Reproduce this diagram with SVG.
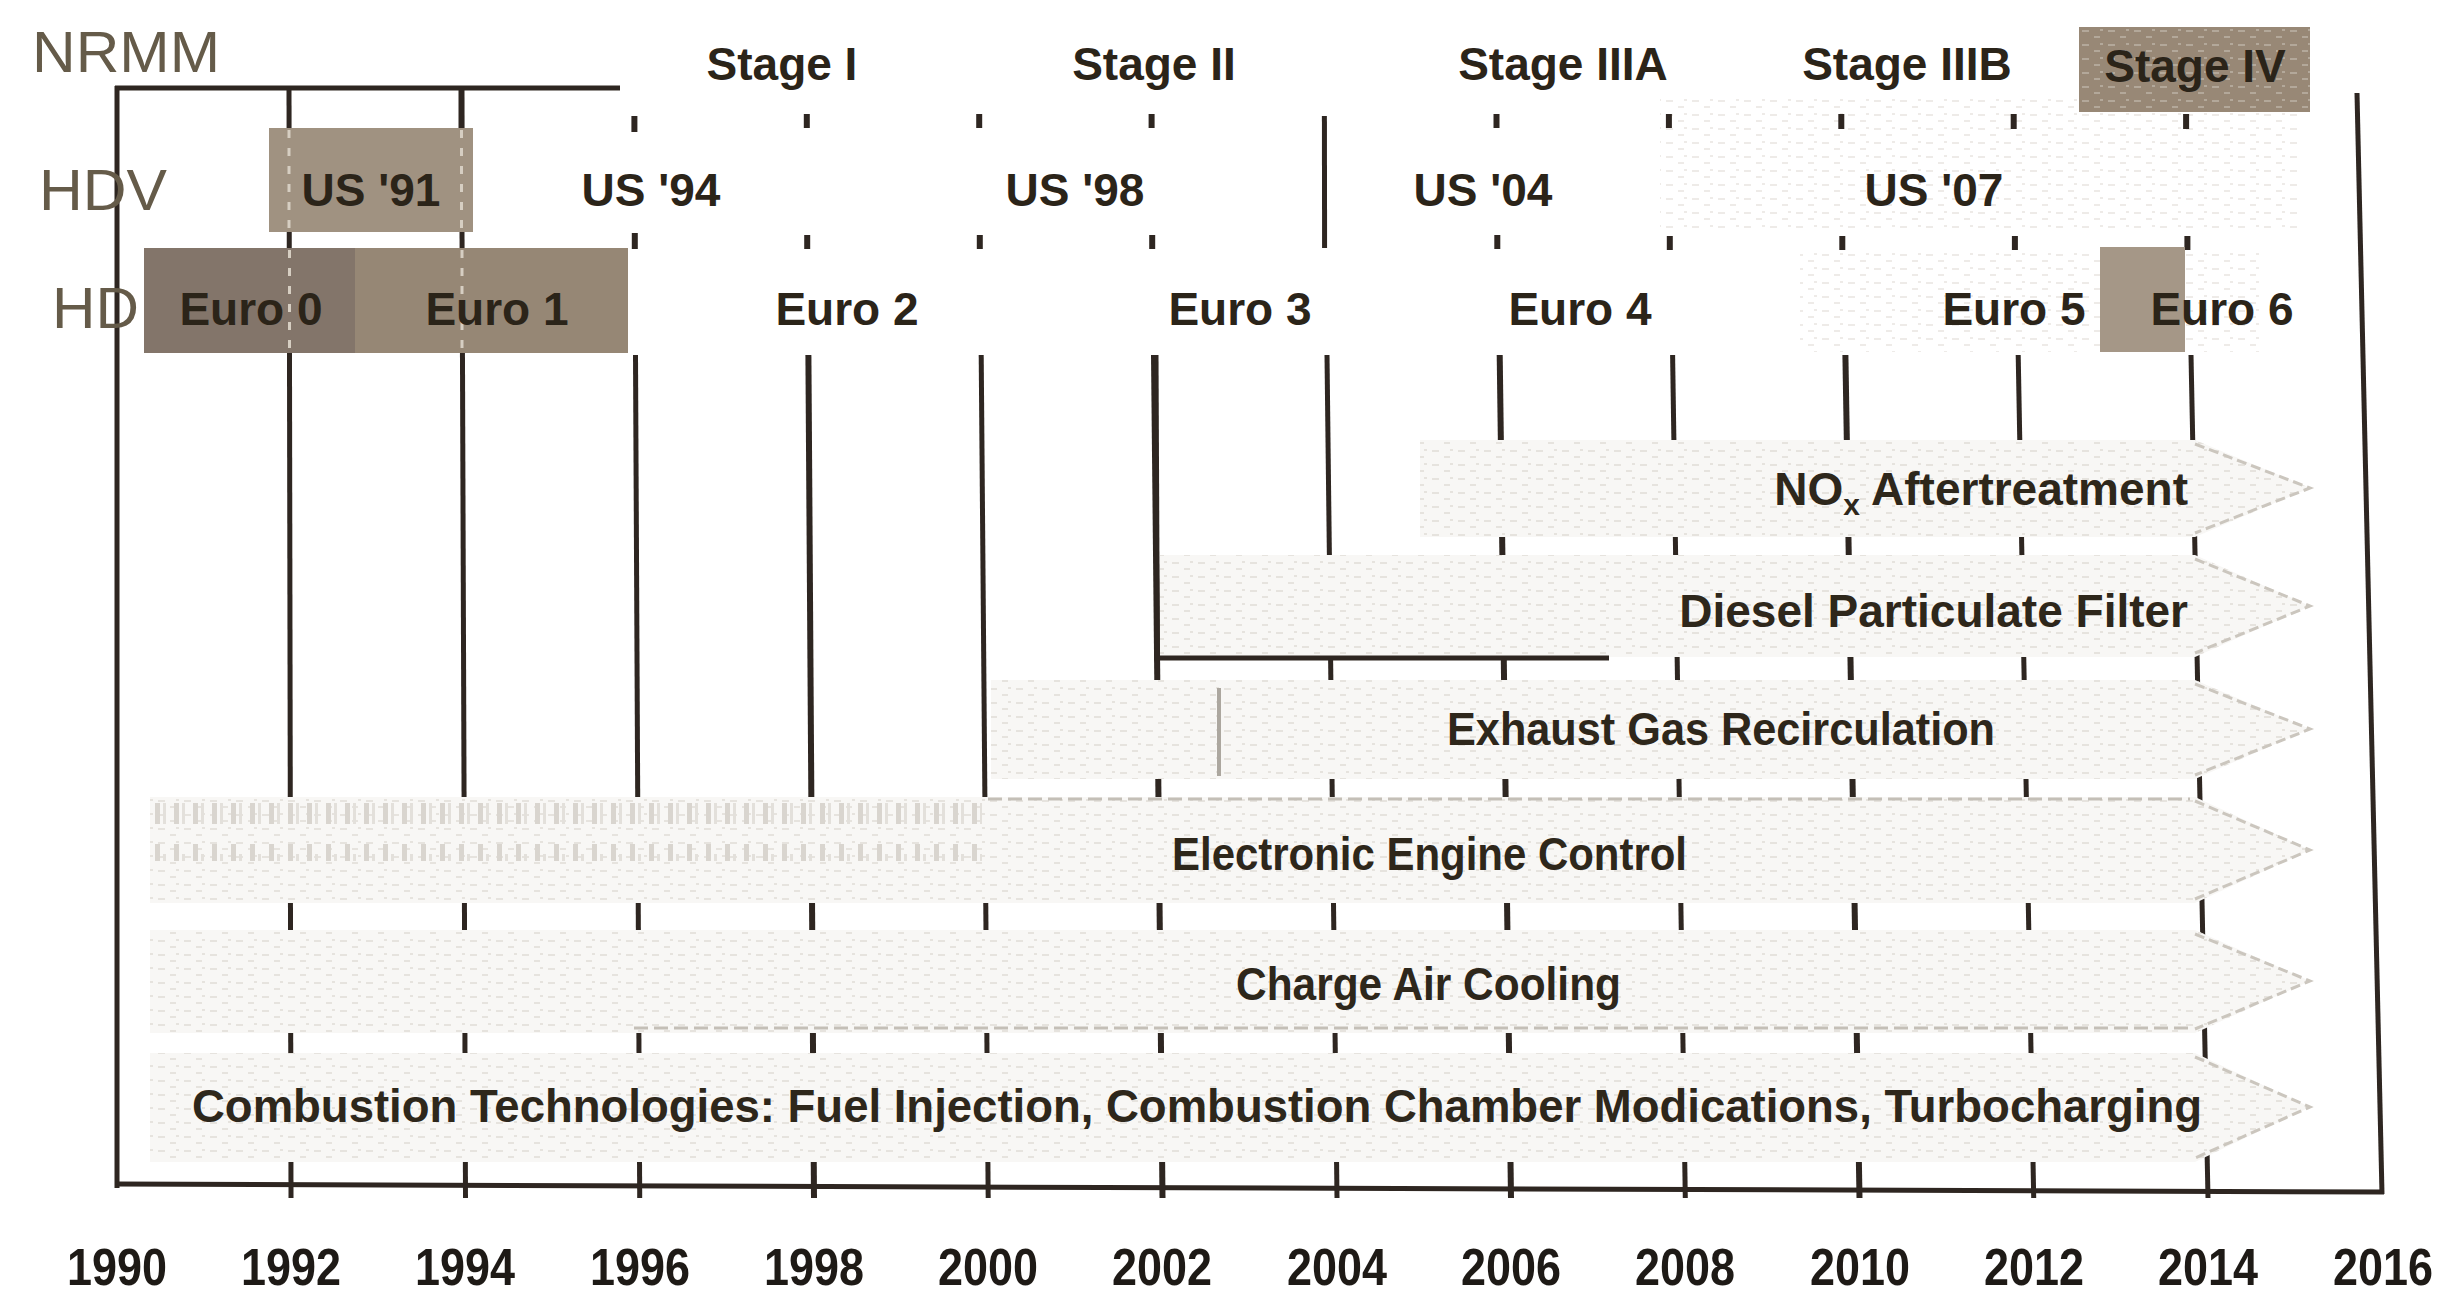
<svg xmlns="http://www.w3.org/2000/svg" width="2452" height="1301" viewBox="0 0 2452 1301">
<defs>
<style>
.lbl{font-family:"Liberation Sans",Arial,sans-serif;font-size:46px;font-weight:bold;fill:#2b2419;text-anchor:middle}
.row{font-family:"Liberation Sans",Arial,sans-serif;font-size:58px;fill:#655b49}
.yr{font-family:"Liberation Sans",Arial,sans-serif;font-size:52px;font-weight:bold;fill:#1e1a16;text-anchor:middle}
.band{font-family:"Liberation Sans",Arial,sans-serif;font-size:46px;font-weight:bold;fill:#2e271b}
.g{stroke:#2e2621;stroke-width:5;fill:none;stroke-linecap:butt}
.tk{stroke:#2e2621;stroke-width:6;fill:none}
.arrow{fill:#f8f7f5;stroke:none}
.tex{fill:url(#scan);stroke:none}
.head{fill:none;stroke:#cbc6be;stroke-width:3;stroke-dasharray:10 5}
.edge{stroke:#c4bfb7;stroke-width:3;stroke-dasharray:14 6;fill:none}
.ghost{stroke:#d6cec2;stroke-width:3;stroke-dasharray:8 10;fill:none}
</style>
<pattern id="scan" width="26" height="14" patternUnits="userSpaceOnUse">
  <path d="M2 3h7M14 9h6M20 2h3" stroke="#e6e3de" stroke-width="2"/>
</pattern>
<pattern id="vhatch" width="19" height="60" patternUnits="userSpaceOnUse">
  <rect x="3" y="4" width="5" height="40" fill="#d9d5cf"/>
  <rect x="11" y="14" width="3" height="30" fill="#e3e0db"/>
</pattern>
</defs>
<rect width="2452" height="1301" fill="#ffffff"/>

<!-- faint scan texture areas -->
<rect x="1660" y="96" width="640" height="135" fill="url(#scan)" opacity="0.7"/>
<rect x="1800" y="252" width="460" height="100" fill="url(#scan)" opacity="0.7"/>

<g id="connectors">
  <!-- axes -->
  <line class="g" x1="117" y1="86" x2="117" y2="1188" stroke-width="6"/>
  <line class="g" x1="115" y1="88" x2="620" y2="88" stroke-width="6"/>
  <line class="g" x1="115" y1="1184" x2="2384" y2="1192" stroke-width="7"/>
  <line class="g" x1="2357" y1="93" x2="2382" y2="1194" stroke-width="4"/>
  <!-- continuous lines 1992, 1994 -->
  <line class="g" x1="289" y1="88" x2="291" y2="1198"/>
  <line class="g" x1="461.5" y1="88" x2="465.5" y2="1198"/>
  <line class="tk" x1="461.5" y1="88" x2="461.5" y2="128" stroke-width="8"/>
  <!-- top ticks (between Stage / HDV / HD rows) -->
  <g class="tk">
    <line x1="634.4" y1="116" x2="634.4" y2="132"/><line x1="634.8" y1="233" x2="634.8" y2="249"/>
    <line x1="806.8" y1="114" x2="806.8" y2="128"/><line x1="807.2" y1="235" x2="807.2" y2="249"/>
    <line x1="979.2" y1="114" x2="979.2" y2="128"/><line x1="979.8" y1="235" x2="979.8" y2="249"/>
    <line x1="1151.6" y1="114" x2="1151.6" y2="128"/><line x1="1152.2" y1="235" x2="1152.2" y2="249"/>
    <line x1="1324.4" y1="116" x2="1324.6" y2="248" stroke-width="5"/>
    <line x1="1496.5" y1="114" x2="1496.5" y2="128"/><line x1="1497.3" y1="235" x2="1497.3" y2="249"/>
    <line x1="1668.9" y1="114" x2="1668.9" y2="128"/><line x1="1669.8" y1="236" x2="1669.8" y2="250"/>
    <line x1="1841.3" y1="114" x2="1841.3" y2="129"/><line x1="1842.3" y1="236" x2="1842.3" y2="250"/>
    <line x1="2013.7" y1="114" x2="2013.7" y2="129"/><line x1="2014.9" y1="236" x2="2014.9" y2="250"/>
    <line x1="2186.1" y1="114" x2="2186.1" y2="129"/><line x1="2187.4" y1="236" x2="2187.4" y2="250"/>
  </g>
  <!-- lower grid lines (mostly hidden under the arrows) -->
  <g class="g">
    <line x1="635.5" y1="355" x2="639.7" y2="1198"/>
    <line x1="808.4" y1="355" x2="814" y2="1198" stroke-width="6"/>
    <line x1="981.2" y1="355" x2="988.2" y2="1198"/>
    <line x1="1154" y1="355" x2="1162.5" y2="1198" stroke-width="6"/>
    <line x1="1327" y1="355" x2="1337" y2="1198"/>
    <line x1="1499.7" y1="355" x2="1511" y2="1198" stroke-width="6"/>
    <line x1="1672.6" y1="355" x2="1685.3" y2="1198"/>
    <line x1="1845.4" y1="355" x2="1859.5" y2="1198" stroke-width="6"/>
    <line x1="2018.2" y1="355" x2="2033.7" y2="1198"/>
    <line x1="2191" y1="355" x2="2208" y2="1198"/>
  </g>
</g>

<!-- left row labels -->
<g id="label-nrmm"><text class="row" x="32" y="72" textLength="188" lengthAdjust="spacingAndGlyphs">NRMM</text></g>
<g id="label-hdv"><text class="row" x="39" y="210" textLength="128" lengthAdjust="spacingAndGlyphs">HDV</text></g>
<g id="label-hd"><text class="row" x="52" y="328" textLength="87" lengthAdjust="spacingAndGlyphs">HD</text></g>

<!-- NRMM stages -->
<g id="stage-1"><text class="lbl" x="782" y="80">Stage I</text></g>
<g id="stage-2"><text class="lbl" x="1154" y="80">Stage II</text></g>
<g id="stage-3a"><text class="lbl" x="1563" y="80">Stage IIIA</text></g>
<g id="stage-3b"><text class="lbl" x="1907" y="80">Stage IIIB</text></g>
<g id="stage-4">
  <rect x="2079" y="27" width="231" height="85" fill="#988876"/>
  <rect x="2079" y="27" width="231" height="85" fill="url(#scan)" opacity="0.35"/>
  <text class="lbl" x="2195" y="82">Stage IV</text>
</g>

<!-- HDV (US) -->
<g id="us-91">
  <rect x="269" y="128" width="204" height="104" fill="#a09281"/>
  <line class="ghost" x1="289" y1="130" x2="289" y2="230"/>
  <line class="ghost" x1="461.5" y1="130" x2="461.5" y2="230"/>
  <text class="lbl" x="371" y="206">US '91</text>
</g>
<g id="us-94"><text class="lbl" x="651" y="206">US '94</text></g>
<g id="us-98"><text class="lbl" x="1075" y="206">US '98</text></g>
<g id="us-04"><text class="lbl" x="1483" y="206">US '04</text></g>
<g id="us-07"><text class="lbl" x="1934" y="206">US '07</text></g>

<!-- HD (Euro) -->
<g id="euro-0">
  <rect x="144" y="248" width="212" height="105" fill="#83756a"/>
  <line class="ghost" x1="289.5" y1="250" x2="289.5" y2="351"/>
  <text class="lbl" x="251" y="325">Euro 0</text>
</g>
<g id="euro-1">
  <rect x="355" y="248" width="273" height="105" fill="#968775"/>
  <line class="ghost" x1="462" y1="250" x2="462" y2="351"/>
  <text class="lbl" x="497" y="325">Euro 1</text>
</g>
<g id="euro-2"><text class="lbl" x="847" y="325">Euro 2</text></g>
<g id="euro-3"><text class="lbl" x="1240" y="325">Euro 3</text></g>
<g id="euro-4"><text class="lbl" x="1580" y="325">Euro 4</text></g>
<g id="euro-5"><text class="lbl" x="2014" y="325">Euro 5</text></g>
<g id="euro-6">
  <rect x="2100" y="247" width="85" height="105" fill="#a59787"/>
  <text class="lbl" x="2222" y="325">Euro 6</text>
</g>

<!-- technology arrows -->
<g id="tech-nox">
  <polygon class="arrow" points="1420,440 2195,440 2310,488 2195,537 1420,537"/>
  <polygon class="tex" points="1420,440 2195,440 2310,488 2195,537 1420,537"/>
  <polyline class="head" points="2195,444 2310,488 2195,533"/>
  <text class="band" x="2188" y="505" text-anchor="end">NO<tspan font-size="30" dy="10">x</tspan><tspan dy="-10"> Aftertreatment</tspan></text>
</g>
<g id="tech-dpf">
  <polygon class="arrow" points="1160,555 2195,555 2310,606 2195,657 1160,657"/>
  <polygon class="tex" points="1160,555 2195,555 2310,606 2195,657 1160,657"/>
  <polyline class="head" points="2195,559 2310,606 2195,653"/>
  <text class="band" x="2188" y="627" text-anchor="end">Diesel Particulate Filter</text>
</g>
<g id="tech-egr">
  <polygon class="arrow" points="991,680 2195,680 2310,729 2195,779 991,779"/>
  <polygon class="tex" points="991,680 2195,680 2310,729 2195,779 991,779"/>
  <polyline class="head" points="2195,684 2310,729 2195,775"/>
  <line x1="1219" y1="688" x2="1219" y2="776" stroke="#aca79f" stroke-width="4"/>
  <text class="band" x="1447" y="745" textLength="548" lengthAdjust="spacingAndGlyphs">Exhaust Gas Recirculation</text>
</g>
<g id="tech-eec">
  <polygon class="arrow" points="150,797 2195,797 2310,850 2195,903 150,903"/>
  <polygon class="tex" points="150,797 2195,797 2310,850 2195,903 150,903"/>
  <rect x="152" y="803" width="830" height="58" fill="url(#vhatch)"/>
  <polyline class="head" points="2195,801 2310,850 2195,899"/>
  <line class="edge" x1="988" y1="799" x2="2190" y2="799"/>
  <text class="band" x="1172" y="870" textLength="515" lengthAdjust="spacingAndGlyphs">Electronic Engine Control</text>
</g>
<g id="tech-cac">
  <polygon class="arrow" points="150,930 2195,930 2310,981 2195,1033 150,1033"/>
  <polygon class="tex" points="150,930 2195,930 2310,981 2195,1033 150,1033"/>
  <polyline class="head" points="2195,934 2310,981 2195,1029"/>
  <line class="edge" x1="634" y1="1028" x2="2190" y2="1028"/>
  <text class="band" x="1236" y="1000" textLength="385" lengthAdjust="spacingAndGlyphs">Charge Air Cooling</text>
</g>
<g id="tech-ct">
  <polygon class="arrow" points="150,1053 2195,1053 2310,1107 2195,1162 150,1162"/>
  <polygon class="tex" points="150,1053 2195,1053 2310,1107 2195,1162 150,1162"/>
  <polyline class="head" points="2195,1057 2310,1107 2195,1158"/>
  <text class="band" x="192" y="1122" textLength="2010" lengthAdjust="spacingAndGlyphs">Combustion Technologies: Fuel Injection, Combustion Chamber Modications, Turbocharging</text>
</g>

<!-- DPF bracket line drawn over arrows -->
<g id="dpf-bracket">
  <line class="g" x1="1156" y1="355" x2="1157.5" y2="678" stroke-width="7"/>
  <line class="g" x1="1154" y1="658" x2="1609" y2="658" stroke-width="6"/>
</g>

<!-- year axis labels -->
<g id="years">
  <text class="yr" x="117" y="1285" textLength="100" lengthAdjust="spacingAndGlyphs">1990</text>
  <text class="yr" x="291" y="1285" textLength="100" lengthAdjust="spacingAndGlyphs">1992</text>
  <text class="yr" x="465" y="1285" textLength="100" lengthAdjust="spacingAndGlyphs">1994</text>
  <text class="yr" x="640" y="1285" textLength="100" lengthAdjust="spacingAndGlyphs">1996</text>
  <text class="yr" x="814" y="1285" textLength="100" lengthAdjust="spacingAndGlyphs">1998</text>
  <text class="yr" x="988" y="1285" textLength="100" lengthAdjust="spacingAndGlyphs">2000</text>
  <text class="yr" x="1162" y="1285" textLength="100" lengthAdjust="spacingAndGlyphs">2002</text>
  <text class="yr" x="1337" y="1285" textLength="100" lengthAdjust="spacingAndGlyphs">2004</text>
  <text class="yr" x="1511" y="1285" textLength="100" lengthAdjust="spacingAndGlyphs">2006</text>
  <text class="yr" x="1685" y="1285" textLength="100" lengthAdjust="spacingAndGlyphs">2008</text>
  <text class="yr" x="1860" y="1285" textLength="100" lengthAdjust="spacingAndGlyphs">2010</text>
  <text class="yr" x="2034" y="1285" textLength="100" lengthAdjust="spacingAndGlyphs">2012</text>
  <text class="yr" x="2208" y="1285" textLength="100" lengthAdjust="spacingAndGlyphs">2014</text>
  <text class="yr" x="2383" y="1285" textLength="100" lengthAdjust="spacingAndGlyphs">2016</text>
</g>
</svg>
